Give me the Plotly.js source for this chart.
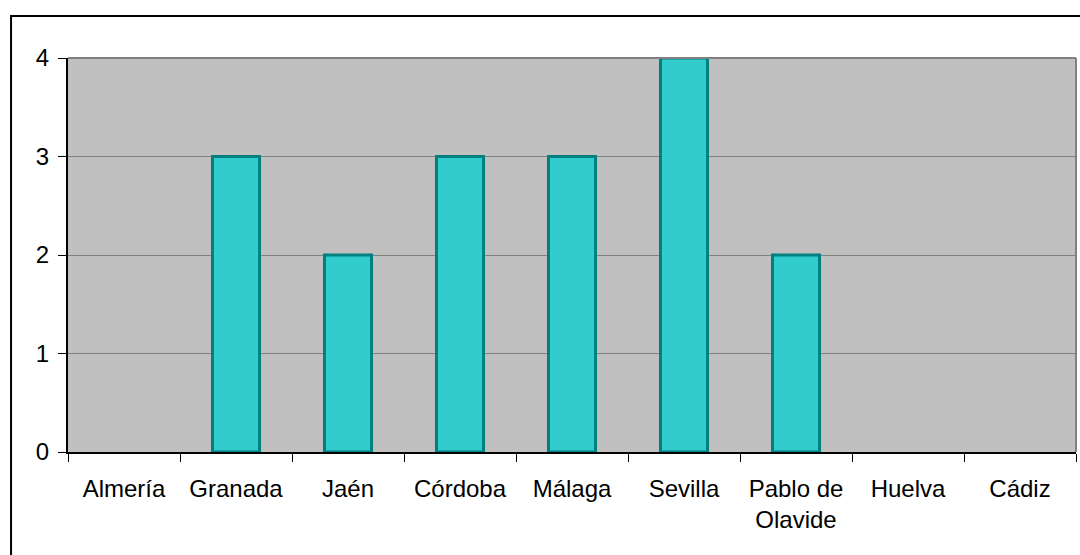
<!DOCTYPE html>
<html>
<head>
<meta charset="utf-8">
<script src="https://cdn.plot.ly/plotly-3.0.1.min.js"></script>
<style>
html,body{margin:0;padding:0;background:#fff;}
#chart{width:1080px;height:555px;}
</style>
</head>
<body>
<div id="chart"></div>
<script>
const categories = ["Almería", "Granada", "Jaén", "Córdoba", "Málaga", "Sevilla", "Pablo de<br>Olavide", "Huelva", "Cádiz"];
const values = [0, 3, 2, 3, 3, 4, 2, 0, 0];
const yTicks = [0, 1, 2, 3, 4];

const trace = {
  type: "bar",
  x: categories,
  y: values,
  marker: {color: "#33CCCC", line: {color: "#008080", width: values.map(v => v ? 3 : 0)}},
  hoverinfo: "x+y"
};

const layout = {
  width: 1080,
  height: 555,
  margin: {l: 68, r: 4, t: 58, b: 103},
  paper_bgcolor: "#ffffff",
  plot_bgcolor: "#C0C0C0",
  bargap: 0.58,
  showlegend: false,
  font: {family: "Liberation Sans, Arial, sans-serif", size: 24, color: "#000"},
  xaxis: {
    type: "category",
    showgrid: false,
    showline: true,
    linecolor: "#000",
    linewidth: 2,
    ticks: "outside",
    tickson: "boundaries",
    ticklen: 8,
    tickwidth: 1,
    tickcolor: "#000",
    ticklabelstandoff: 14,
    tickfont: {size: 24, family: "Liberation Sans, Arial, sans-serif"},
    zeroline: false,
    fixedrange: true
  },
  yaxis: {
    range: [0, 4],
    tickvals: yTicks,
    ticktext: yTicks.map(String),
    showgrid: true,
    gridcolor: "#808080",
    gridwidth: 1,
    showline: true,
    linecolor: "#000",
    linewidth: 2,
    ticks: "outside",
    ticklen: 8,
    tickwidth: 1,
    tickcolor: "#000",
    ticklabelstandoff: 4,
    tickfont: {size: 24, family: "Liberation Sans, Arial, sans-serif"},
    zeroline: false,
    fixedrange: true
  },
  shapes: [
    {type: "line", xref: "paper", yref: "paper", x0: 1, x1: 1, y0: 0, y1: 1, line: {color: "#808080", width: 2}},
    {type: "line", xref: "paper", yref: "paper", x0: 0, x1: 1, y0: 1, y1: 1, line: {color: "#808080", width: 2}},
    {type: "rect", xref: "paper", yref: "paper", x0: -0.0565, x1: 1.2, y0: -0.5, y1: 1.1066, line: {color: "#000", width: 2}, fillcolor: "rgba(0,0,0,0)", layer: "below"}
  ]
};

Plotly.newPlot("chart", [trace], layout, {displayModeBar: false, staticPlot: true});
</script>
</body>
</html>
